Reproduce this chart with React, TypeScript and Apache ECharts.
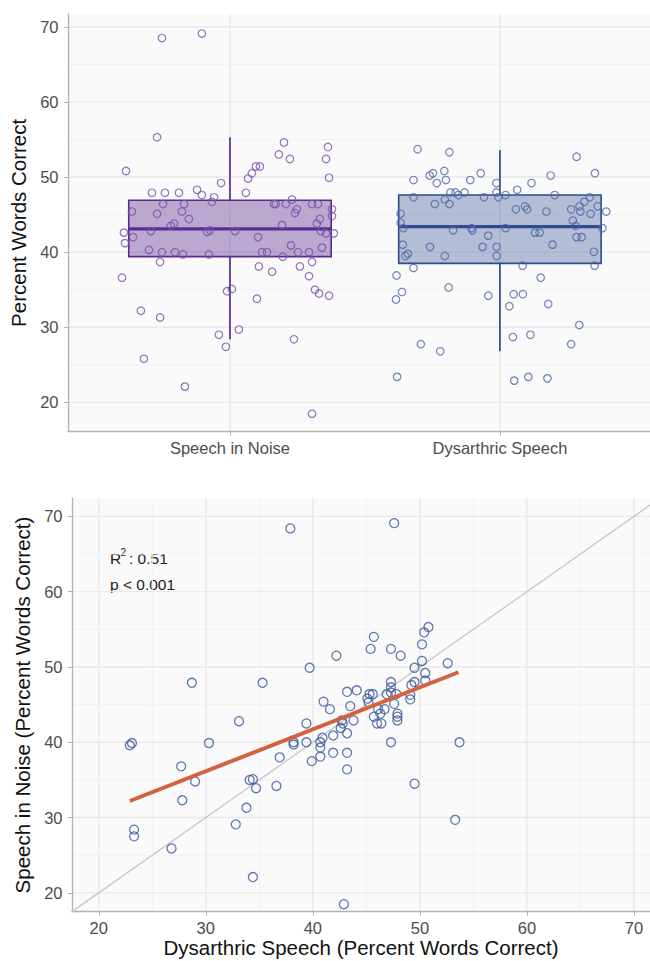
import React, { useEffect, useRef } from "react";
import * as echarts from "echarts";

// ---------- data ----------
const groups = ["Speech in Noise", "Dysarthric Speech"];

const noiseValues = [68.5,69.1,55.3,50.8,47.9,47.9,47.9,48.3,47.6,47.3,
  49.2,46.7,45.4,45.1,46.4,46.4,45.4,44.4,43.8,43.5,
  47.9,49.8,50.5,51.4,51.4,53.0,54.6,52.4,47.0,46.4,
  46.4,46.4,45.7,45.2,46.4,46.4,43.6,44.4,43.8,54.0,
  52.4,49.9,42.6,42.0,42.8,42.7,42.9,42.8,42.0,41.2,
  40.3,40.0,40.0,39.7,38.7,39.7,36.6,45.7,44.8,42.8,
  42.5,42.5,40.6,40.9,40.0,40.0,40.0,40.0,39.4,38.1,
  37.4,38.1,38.7,36.8,35.0,34.5,34.2,34.8,35.1,33.8,
  32.2,31.3,29.0,29.7,27.4,28.4,25.8,22.1,18.5];
const noiseJitter = [-0.252,-0.104,-0.270,-0.385,-0.289,-0.241,-0.189,-0.122,-0.104,-0.059,
  -0.033,-0.067,-0.363,-0.270,-0.248,-0.170,-0.178,-0.152,-0.207,-0.219,
  0.059,0.067,0.081,0.096,0.111,0.181,0.200,0.222,0.230,0.163,
  0.170,0.207,0.248,0.241,0.304,0.326,0.193,0.333,0.322,0.363,
  0.356,0.367,-0.393,-0.359,-0.293,-0.085,-0.074,0.019,0.104,-0.389,
  -0.300,-0.252,-0.204,-0.174,-0.259,-0.078,-0.400,0.378,0.378,0.337,
  0.356,0.385,0.341,0.226,0.252,0.293,0.119,0.137,0.196,0.107,
  0.156,0.259,0.304,0.293,0.315,0.330,0.367,-0.011,0.007,0.100,
  -0.330,-0.259,-0.041,0.033,-0.015,0.237,-0.319,-0.167,0.304];

const dysValues = [53.7,53.3,52.7,50.5,50.2,49.2,49.2,50.5,49.6,50.2,
  50.5,49.2,50.8,49.6,49.6,47.3,47.95,47.95,47.6,47.95,
  46.4,47.0,46.4,47.3,47.95,47.3,47.6,48.3,47.6,47.3,
  45.7,46.1,45.7,45.4,45.7,46.1,45.4,46.7,46.1,45.1,
  45.4,45.1,43.9,43.2,42.9,43.2,42.9,42.2,43.2,42.6,
  42.6,44.2,43.5,43.2,42.0,42.0,41.0,39.5,39.8,40.7,
  39.5,40.7,40.7,39.5,41.0,40.05,38.2,38.2,37.9,36.9,
  36.6,35.3,34.7,33.7,34.2,34.4,34.4,32.8,33.1,30.3,
  28.7,29.0,27.75,26.8,27.75,23.4,22.9,23.4,23.2];
const dysJitter = [-0.305,-0.187,0.284,0.352,0.188,0.117,-0.013,-0.071,-0.320,-0.260,
  -0.248,-0.234,-0.206,-0.200,-0.110,-0.320,-0.183,-0.165,-0.154,-0.131,
  -0.241,-0.204,-0.187,-0.059,-0.013,-0.006,0.021,0.064,0.203,0.333,
  0.059,0.093,0.101,0.172,0.264,0.295,0.298,0.313,0.362,0.336,
  0.394,-0.368,-0.368,-0.358,-0.173,-0.105,-0.102,-0.043,0.021,0.130,
  0.147,0.270,0.280,0.380,0.284,0.303,-0.360,-0.350,-0.341,-0.259,
  -0.204,-0.064,-0.012,-0.012,0.195,0.348,0.351,0.084,-0.320,-0.383,
  0.151,-0.190,-0.363,-0.385,-0.043,0.051,0.085,0.035,0.179,0.294,
  0.048,0.113,-0.293,-0.221,0.264,-0.381,0.053,0.105,0.176];

// [min, Q1, median, Q3, max]
const boxNoise = [28.4, 39.4, 43.1, 46.9, 55.3];
const boxDys = [26.8, 38.5, 43.4, 47.6, 53.6];

// scatter: x = Dysarthric Speech, y = Speech in Noise
const scatterDys = [37.9,47.6,28.7,35.3,39.7,42.2,45.7,45.4,47.3,48.2,
  50.8,50.4,50.2,50.2,49.5,52.6,50.5,50.5,47.3,47.3,
  49.2,49.5,43.2,44.1,45.3,45.6,45.1,45.2,41.0,41.6,
  43.5,43.8,46.9,47.3,47.8,47.6,46.7,46.1,45.7,46.3,
  46.0,46.4,47.9,47.9,47.9,49.1,49.1,42.7,42.8,33.1,
  39.4,42.6,43.2,41.9,40.9,40.7,40.7,39.4,38.2,38.2,
  41.9,43.2,40.7,47.3,53.7,39.9,43.2,49.5,53.3,30.3,
  27.7,36.9,22.9,23.1,23.3,23.3,27.8,29.0,26.8,32.8,
  33.8,34.1,34.4,34.7,34.4,36.6,42.9];
const scatterNoise = [68.4,69.1,47.9,47.9,49.9,51.5,54.0,52.4,52.4,51.5,
  55.3,54.6,53.0,50.8,49.9,50.5,49.2,48.2,48.0,47.3,
  47.6,48.0,46.7,46.9,46.4,46.4,45.8,45.3,45.4,44.4,
  44.8,42.9,46.4,46.6,46.4,45.1,44.4,44.4,43.4,43.8,
  42.5,42.5,43.8,43.4,42.9,46.3,45.7,42.9,42.5,42.8,
  42.5,41.9,41.2,40.9,40.6,40.0,39.3,40.0,40.0,39.7,
  38.6,38.6,38.1,40.0,40.0,37.5,36.4,34.5,29.7,39.9,
  36.8,38.0,39.6,39.9,28.4,27.5,32.3,34.8,25.9,29.1,
  31.3,35.0,35.1,33.9,22.1,34.2,18.5];

const fitX = [22.9, 53.6];
const fitY = [32.2, 49.3];
const rSquaredValue = "0.51";
const pValueText = "p < 0.001";

const majorTicks = [20, 30, 40, 50, 60, 70];
const minorTicks = [25, 35, 45, 55, 65];
const groupPositions = [1, 2];
const identityLine = [17, 73];

// ---------- styles ----------
const FONT = "'Liberation Sans', Arial, Helvetica, sans-serif";
const AXIS_GREY = "#b3b3b3";
const MAJOR = "#e9e9e9";
const MINOR = "#f2f2f2";
const BG = "#fafafa";
const PURPLE = "#5b2c8f";
const PURPLE_PT = "#7a4fab";
const BLUE = "#2d4b8e";
const BLUE_PT = "#4c67a6";
const SCATTER_BLUE = "#3a589c";
const FIT = "#d4623f";
const NOTE = "#222";

function hLines(idx: number, values: number[], xRef: number, color: string, width: number) {
  return {
    type: "custom", xAxisIndex: idx, yAxisIndex: idx, silent: true, z: 0,
    data: values.map((v) => [xRef, v]),
    encode: { x: 0, y: 1 },
    renderItem: (params: any, api: any) => {
      const cs = params.coordSys;
      const y = api.coord([xRef, api.value(1)])[1];
      return { type: "line", shape: { x1: cs.x, y1: y, x2: cs.x + cs.width, y2: y }, style: { stroke: color, lineWidth: width } };
    },
  };
}
function vLines(idx: number, values: number[], yRef: number, color: string, width: number) {
  return {
    type: "custom", xAxisIndex: idx, yAxisIndex: idx, silent: true, z: 0,
    data: values.map((v) => [v, yRef]),
    encode: { x: 0, y: 1 },
    renderItem: (params: any, api: any) => {
      const cs = params.coordSys;
      const x = api.coord([api.value(0), yRef])[0];
      return { type: "line", shape: { x1: x, y1: cs.y, x2: x, y2: cs.y + cs.height }, style: { stroke: color, lineWidth: width } };
    },
  };
}

export default function App() {
  const ref = useRef<HTMLDivElement>(null);
  useEffect(() => {
    if (!ref.current) return;
    const chart = echarts.init(ref.current, undefined, { renderer: "svg" });

    const boxColors = [
      { stroke: PURPLE, fill: "rgba(91,44,143,0.40)" },
      { stroke: BLUE, fill: "rgba(45,75,142,0.35)" },
    ];
    const boxData = [
      [groupPositions[0], ...boxNoise],
      [groupPositions[1], ...boxDys],
    ];

    const axisCommon = {
      axisLine: { show: true, onZero: false, lineStyle: { color: AXIS_GREY, width: 1.4 } },
      splitLine: { show: false },
    };
    const tickLabel = { color: "#4d4d4d", fontSize: 16.5, fontFamily: FONT };
    const titleStyle = { color: "#111", fontSize: 20.5, fontFamily: FONT };

    const option: any = {
      animation: false,
      textStyle: { fontFamily: FONT },
      grid: [
        { left: 68, top: 14, right: 0, height: 417.7, show: true, backgroundColor: BG, borderWidth: 0, containLabel: false, outerBoundsMode: "none" },
        { left: 72, top: 498.3, right: 0, height: 413.4, show: true, backgroundColor: BG, borderWidth: 0, containLabel: false, outerBoundsMode: "none" },
      ],
      xAxis: [
        {
          gridIndex: 0, type: "value", min: 0.4, max: 2.556, ...axisCommon,
          axisTick: { show: true, length: 4, customValues: groupPositions, lineStyle: { color: AXIS_GREY } },
          axisLabel: { ...tickLabel, margin: 7.5, customValues: groupPositions, formatter: (v: number) => groups[Math.round(v) - 1] || "" },
        },
        {
          gridIndex: 1, type: "value", min: 17.5, max: 71.5, ...axisCommon,
          axisTick: { show: true, length: 4, customValues: majorTicks, lineStyle: { color: AXIS_GREY } },
          axisLabel: { ...tickLabel, margin: 7.5, customValues: majorTicks },
          name: "Dysarthric Speech (Percent Words Correct)", nameLocation: "middle", nameGap: 25, nameTextStyle: titleStyle,
        },
      ],
      yAxis: [
        {
          gridIndex: 0, type: "value", min: 16.1, max: 71.7, ...axisCommon,
          axisTick: { show: true, length: 4, customValues: majorTicks, lineStyle: { color: AXIS_GREY } },
          axisLabel: { ...tickLabel, margin: 9.5, customValues: majorTicks },
          name: "Percent Words Correct", nameLocation: "middle", nameGap: 28, nameTextStyle: titleStyle,
        },
        {
          gridIndex: 1, type: "value", min: 17.5, max: 72.4, ...axisCommon,
          axisTick: { show: true, length: 4, customValues: majorTicks, lineStyle: { color: AXIS_GREY } },
          axisLabel: { ...tickLabel, margin: 9.5, customValues: majorTicks },
          name: "Speech in Noise (Percent Words Correct)", nameLocation: "middle", nameGap: 32, nameTextStyle: titleStyle,
        },
      ],
      graphic: [
        { type: "text", x: 110, y: 558, style: { text: "R", fontSize: 15.5, fontFamily: FONT, fill: NOTE, verticalAlign: "middle" } },
        { type: "text", x: 120.5, y: 552, style: { text: "2", fontSize: 10, fontFamily: FONT, fill: NOTE, verticalAlign: "middle" } },
        { type: "text", x: 129, y: 558, style: { text: ": " + rSquaredValue, fontSize: 15.5, fontFamily: FONT, fill: NOTE, verticalAlign: "middle" } },
        { type: "text", x: 110, y: 584.5, style: { text: pValueText, fontSize: 15.5, fontFamily: FONT, fill: NOTE, verticalAlign: "middle" } },
      ],
      series: [
        // top panel grid lines
        hLines(0, minorTicks, 1, MINOR, 1),
        hLines(0, majorTicks, 1, MAJOR, 1.4),
        vLines(0, groupPositions, 40, MAJOR, 1.4),
        // boxes
        {
          type: "custom", xAxisIndex: 0, yAxisIndex: 0, z: 2, silent: true,
          data: boxData,
          encode: { x: 0, y: [1, 2, 3, 4, 5] },
          renderItem: (params: any, api: any) => {
            const x = api.value(0);
            const c = boxColors[params.dataIndex];
            const cx = api.coord([x, api.value(3)])[0];
            const yLo = api.coord([x, api.value(1)])[1];
            const yQ1 = api.coord([x, api.value(2)])[1];
            const yMed = api.coord([x, api.value(3)])[1];
            const yQ3 = api.coord([x, api.value(4)])[1];
            const yHi = api.coord([x, api.value(5)])[1];
            const w = api.size([0.75, 0])[0];
            return {
              type: "group",
              children: [
                { type: "line", shape: { x1: cx, y1: yHi, x2: cx, y2: yQ3 }, style: { stroke: c.stroke, lineWidth: 1.7 } },
                { type: "line", shape: { x1: cx, y1: yQ1, x2: cx, y2: yLo }, style: { stroke: c.stroke, lineWidth: 1.7 } },
                { type: "rect", shape: { x: cx - w / 2, y: yQ3, width: w, height: yQ1 - yQ3 }, style: { fill: c.fill, stroke: c.stroke, lineWidth: 1.6 } },
                { type: "line", shape: { x1: cx - w / 2, y1: yMed, x2: cx + w / 2, y2: yMed }, style: { stroke: c.stroke, lineWidth: 3.2 } },
              ],
            };
          },
        },
        {
          type: "scatter", xAxisIndex: 0, yAxisIndex: 0, z: 3, symbol: "circle", symbolSize: 7.5,
          data: noiseValues.map((v, i) => [groupPositions[0] + noiseJitter[i], v]),
          itemStyle: { color: "rgba(0,0,0,0)", borderColor: PURPLE_PT, borderWidth: 1.2 },
        },
        {
          type: "scatter", xAxisIndex: 0, yAxisIndex: 0, z: 3, symbol: "circle", symbolSize: 7.5,
          data: dysValues.map((v, i) => [groupPositions[1] + dysJitter[i], v]),
          itemStyle: { color: "rgba(0,0,0,0)", borderColor: BLUE_PT, borderWidth: 1.2 },
        },
        // bottom panel grid lines
        hLines(1, minorTicks, 40, MINOR, 1),
        vLines(1, minorTicks, 40, MINOR, 1),
        hLines(1, majorTicks, 40, MAJOR, 1.4),
        vLines(1, majorTicks, 40, MAJOR, 1.4),
        {
          type: "line", xAxisIndex: 1, yAxisIndex: 1, z: 2, showSymbol: false, silent: true, clip: true,
          data: identityLine.map((v) => [v, v]),
          lineStyle: { color: "#c6c6c6", width: 1.3 },
        },
        {
          type: "scatter", xAxisIndex: 1, yAxisIndex: 1, z: 3, symbol: "circle", symbolSize: 9,
          data: scatterDys.map((x, i) => [x, scatterNoise[i]]),
          itemStyle: { color: "rgba(0,0,0,0)", borderColor: SCATTER_BLUE, borderWidth: 1.3 },
        },
        {
          type: "line", xAxisIndex: 1, yAxisIndex: 1, z: 4, showSymbol: false, silent: true,
          data: fitX.map((x, i) => [x, fitY[i]]),
          lineStyle: { color: FIT, width: 4 },
        },
      ],
    };
    chart.setOption(option);
    return () => chart.dispose();
  }, []);
  return <div ref={ref} style={{ position: "absolute", left: 0, top: 0, width: 650, height: 961, background: "#fff" }} />;
}
